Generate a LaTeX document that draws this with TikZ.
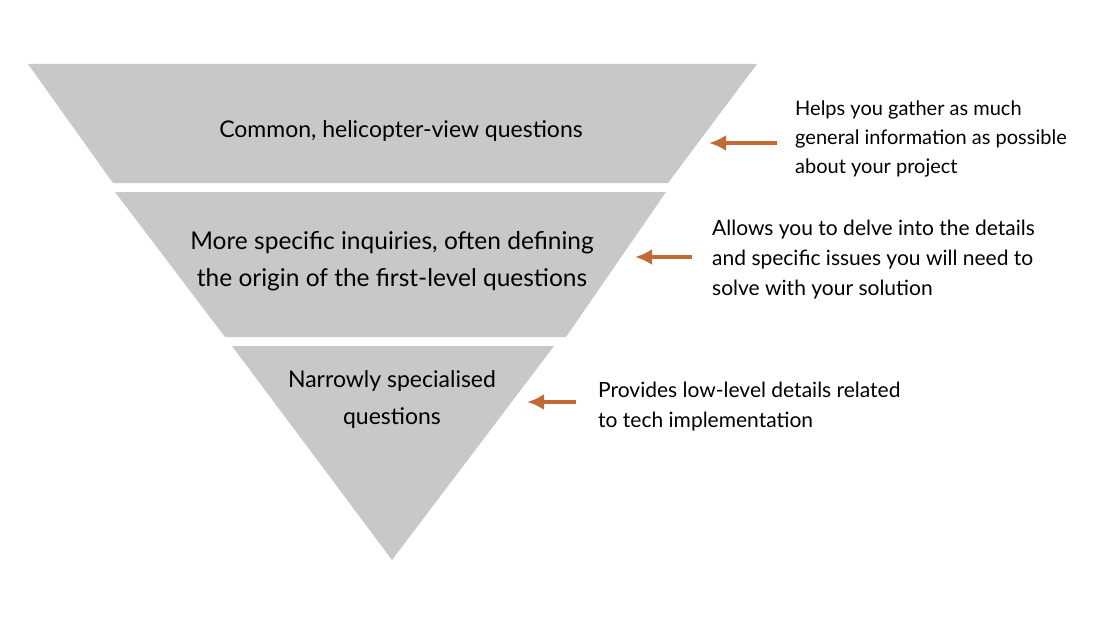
\documentclass[tikz,border=0pt]{standalone}
\usepackage{fontspec}
\setmainfont{Lato}
\usetikzlibrary{arrows.meta}
\definecolor{bandgray}{RGB}{200,200,200}
\definecolor{arroworange}{RGB}{196,104,52}
\begin{document}
\begin{tikzpicture}[x=1pt,y=-1pt,
  band/.style={fill=bandgray,draw=none},
  bandtext/.style={font=\fontsize{23}{37}\selectfont,align=center,inner sep=0pt},
  notetext/.style={font=\fontsize{20}{29}\selectfont,align=left,anchor=west,inner sep=0pt},
  pointer/.style={draw=arroworange,line width=3.5pt,-{Latex[length=17pt,width=16pt]}}]
\useasboundingbox (0,0) rectangle (1100,618);
% bands
\fill[band] (28,64) -- (757,64) -- (668,183) -- (113,183) -- cycle;
\fill[band] (115,192) -- (666,192) -- (566,337) -- (225,337) -- cycle;
\fill[band] (232,346) -- (554,346) -- (392,560) -- cycle;
% band texts
\node[bandtext] (t1) at (401,131) {Common, helicopter-view questions};
\node[bandtext,font=\fontsize{24.5}{37}\selectfont] (t2) at (392,261) {More specific inquiries, often defining\\the origin of the first-level questions};
\node[bandtext] (t3) at (392,399) {Narrowly specialised\\questions};
% notes
\node[notetext] (n1) at (795,139) {Helps you gather as much\\general information as possible\\about your project};
\node[notetext,font=\fontsize{21}{30}\selectfont] (n2) at (712,260) {Allows you to delve into the details\\and specific issues you will need to\\solve with your solution};
\node[notetext,font=\fontsize{21}{30}\selectfont] (n3) at (598,407) {Provides low-level details related\\to tech implementation};
% arrow anchors
\coordinate (a1s) at (777,143);
\coordinate (a1e) at (709,143);
\coordinate (a2s) at (692,257);
\coordinate (a2e) at (635,257);
\coordinate (a3s) at (576,402);
\coordinate (a3e) at (527,402);
\draw[pointer] (a1s) -- (a1e);
\draw[pointer] (a2s) -- (a2e);
\draw[pointer] (a3s) -- (a3e);
\end{tikzpicture}
\end{document}
